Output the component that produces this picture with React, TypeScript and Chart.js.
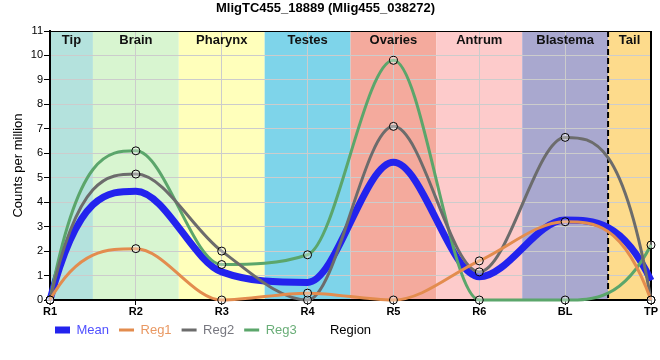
import React, { useEffect, useRef } from "react";
import { Chart, registerables } from "chart.js";

Chart.register(...registerables);

const chartTitle = "MligTC455_18889 (Mlig455_038272)";
const yAxisTitle = "Counts per million";
const xAxisTitle = "Region";

const categories = ["R1", "R2", "R3", "R4", "R5", "R6", "BL", "TP"];
const meanValues = [0, 4.45, 1.15, 0.72, 5.63, 0.95, 3.27, 0.8];
const reg1Values = [0, 2.1, 0, 0.28, 0, 1.6, 3.2, 0];
const reg2Values = [0, 5.15, 2.0, 0, 7.1, 1.15, 6.65, 0];
const reg3Values = [0, 6.1, 1.45, 1.85, 9.8, 0, 0, 2.25];

const seriesNames = ["Mean", "Reg1", "Reg2", "Reg3"];
const seriesColors = ["#2323ee", "#e38c4e", "#6c6c6c", "#5ba66b"];
const legendTextColors = ["#5050ff", "#e99862", "#77777f", "#6aae78"];

const regionNames = ["Tip", "Brain", "Pharynx", "Testes", "Ovaries", "Antrum", "Blastema", "Tail"];
const regionStart = [0, 0.5, 1.5, 2.5, 3.5, 4.5, 5.5, 6.5];
const regionEnd = [0.5, 1.5, 2.5, 3.5, 4.5, 5.5, 6.5, 7];
const regionColors = ["#b4e2dd", "#d8f5d0", "#ffffbb", "#7ed4ea", "#f4aa9d", "#fdcbcb", "#a9a8cf", "#fddb8c"];
const tailDivider = 6.5;

const yMin = 0;
const yMax = 11;
const yStep = 1;

// end tangent of the curves, as a multiple of the end segment's slope
const endSlopeFactor = 3;

const SANS = "'Liberation Sans', Arial, sans-serif";

const decorPlugin = {
  id: "decor",
  afterLayout(chart: any) {
    if (chart.legend) {
      chart.legend.left = 45;
      chart.legend.top = 313.5;
    }
  },
  beforeDraw(chart: any) {
    const { ctx, chartArea: a, scales } = chart;
    const x = scales.x;
    ctx.save();
    for (let i = 0; i < regionNames.length; i++) {
      const x0 = x.getPixelForValue(regionStart[i]);
      const x1 = x.getPixelForValue(regionEnd[i]);
      ctx.fillStyle = regionColors[i];
      ctx.fillRect(x0, a.top, x1 - x0, a.bottom - a.top);
    }
    ctx.restore();
  },
  beforeDatasetsDraw(chart: any) {
    const { ctx, chartArea: a, scales } = chart;
    const x = scales.x;
    ctx.save();
    ctx.font = "bold 13px " + SANS;
    ctx.fillStyle = "#111";
    ctx.textAlign = "center";
    ctx.textBaseline = "middle";
    for (let i = 0; i < regionNames.length; i++) {
      const x0 = x.getPixelForValue(regionStart[i]);
      const x1 = x.getPixelForValue(regionEnd[i]);
      ctx.fillText(regionNames[i], (x0 + x1) / 2, a.top + 9);
    }
    const xd = x.getPixelForValue(tailDivider);
    ctx.strokeStyle = "#000";
    ctx.lineWidth = 2;
    ctx.setLineDash([6, 3]);
    ctx.beginPath();
    ctx.moveTo(xd, a.top);
    ctx.lineTo(xd, a.bottom);
    ctx.stroke();
    ctx.setLineDash([]);
    ctx.lineWidth = 1;
    ctx.beginPath();
    ctx.moveTo(a.left, a.top + 0.5);
    ctx.lineTo(a.right, a.top + 0.5);
    ctx.stroke();
    ctx.lineWidth = 2;
    ctx.beginPath();
    ctx.moveTo(a.right, a.top);
    ctx.lineTo(a.right, a.bottom);
    ctx.stroke();
    ctx.restore();

    // steeper end tangents for the library's monotone curves
    const clampY = (v: number) => Math.max(a.top, Math.min(a.bottom, v));
    chart.getSortedVisibleDatasetMetas().forEach((meta: any) => {
      const line = meta.dataset;
      const pts = meta.data;
      if (!line || !pts || pts.length < 2) return;
      line.updateControlPoints(a, meta.iScale ? meta.iScale.axis : "x");
      const n = pts.length;
      const p0 = pts[0];
      const p1 = pts[1];
      p0.cp2x = p0.x + (p1.x - p0.x) / 3;
      p0.cp2y = clampY(p0.y + (endSlopeFactor * (p1.y - p0.y)) / 3);
      const pn = pts[n - 1];
      const pm = pts[n - 2];
      pn.cp1x = pn.x - (pn.x - pm.x) / 3;
      pn.cp1y = clampY(pn.y - (endSlopeFactor * (pn.y - pm.y)) / 3);
    });
  },
  afterDraw(chart: any) {
    const { ctx, chartArea: a } = chart;
    ctx.save();
    ctx.font = "13px " + SANS;
    ctx.fillStyle = "#000";
    ctx.textAlign = "center";
    ctx.textBaseline = "middle";
    ctx.fillText(xAxisTitle, (a.left + a.right) / 2, 330);
    ctx.restore();
  },
};

export default function App() {
  const canvasRef = useRef<HTMLCanvasElement | null>(null);

  useEffect(() => {
    const canvas = canvasRef.current;
    if (!canvas) return;
    const valueSets = [meanValues, reg1Values, reg2Values, reg3Values];
    const datasets = valueSets.map((vals, i) => {
      const isMean = i === 0;
      return {
        label: seriesNames[i],
        data: vals,
        borderColor: seriesColors[i],
        backgroundColor: seriesColors[i],
        borderWidth: isMean ? 7 : 3,
        cubicInterpolationMode: "monotone",
        fill: false,
        clip: false as any,
        order: isMean ? 1 : 0,
        pointRadius: isMean ? 0 : 4,
        pointHoverRadius: isMean ? 0 : 4,
        pointBorderColor: "#000",
        pointBorderWidth: 1,
        pointBackgroundColor: "rgba(255,255,255,0.35)",
      };
    });

    const chart = new Chart(canvas, {
      type: "line",
      data: { labels: categories, datasets },
      options: {
        responsive: false,
        animation: false,
        devicePixelRatio: 1,
        layout: { padding: { left: 0, right: 9, top: 0, bottom: 7 } },
        font: { family: SANS },
        plugins: {
          title: {
            display: true,
            text: chartTitle,
            color: "#000",
            font: { family: SANS, size: 13, weight: "bold" },
            padding: { top: 1, bottom: 14.4 },
          },
          legend: {
            display: true,
            position: "bottom",
            align: "start",
            labels: {
              usePointStyle: true,
              pointStyle: "line",
              pointStyleWidth: 15,
              padding: 10,
              font: { family: SANS, size: 13 },
              sort: (a: any, b: any) => a.datasetIndex - b.datasetIndex,
              generateLabels: (ch: any) => {
                const items = (Chart.defaults.plugins.legend.labels as any).generateLabels(ch);
                return items.map((it: any) => {
                  const ds = ch.data.datasets[it.datasetIndex];
                  return {
                    ...it,
                    strokeStyle: ds.borderColor,
                    fillStyle: ds.borderColor,
                    lineWidth: ds.borderWidth,
                    fontColor: legendTextColors[it.datasetIndex],
                    pointStyle: "line",
                  };
                });
              },
            },
          },
          tooltip: { enabled: false },
        },
        scales: {
          x: {
            type: "category",
            offset: false,
            afterFit: (s: any) => {
              s.height = 20;
            },
            grid: {
              display: true,
              offset: false,
              color: "#cccccc",
              lineWidth: 1,
              drawTicks: true,
              tickLength: 5,
              tickColor: "#000",
            },
            border: { display: true, color: "#000", width: 2 },
            ticks: {
              color: "#000",
              padding: 0,
              font: { family: SANS, size: 11, weight: "bold" },
              maxRotation: 0,
              autoSkip: false,
            },
          },
          y: {
            min: yMin,
            max: yMax,
            afterFit: (s: any) => {
              s.width = 50;
            },
            grid: {
              display: true,
              color: "#cccccc",
              lineWidth: 1,
              drawTicks: true,
              tickLength: 6,
              tickColor: "#000",
            },
            border: { display: true, color: "#000", width: 2 },
            ticks: {
              stepSize: yStep,
              color: "#000",
              padding: 1,
              font: { family: SANS, size: 11 },
            },
            title: {
              display: true,
              text: yAxisTitle,
              color: "#000",
              font: { family: SANS, size: 13 },
              padding: { top: 11, bottom: 0 },
            },
          },
        },
      },
      plugins: [decorPlugin],
    } as any);

    return () => {
      chart.destroy();
    };
  }, []);

  return (
    <div style={{ position: "absolute", left: 0, top: 0, width: 660, height: 360, background: "#fff" }}>
      <canvas ref={canvasRef} width={660} height={360} style={{ display: "block" }} />
    </div>
  );
}
